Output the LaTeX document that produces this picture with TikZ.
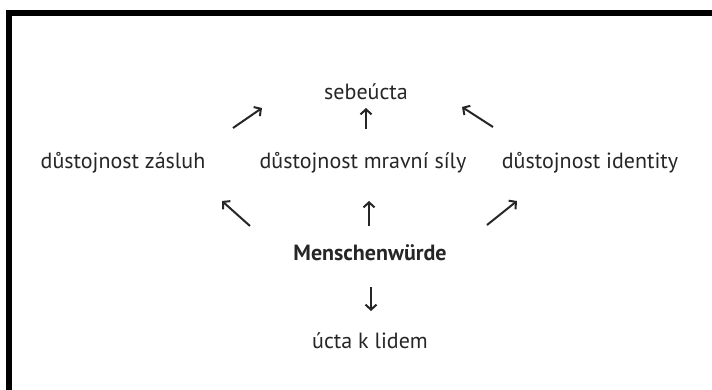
\documentclass[tikz,border=0pt]{standalone}
\usepackage{fontspec}
\setmainfont{PT Sans}
\usetikzlibrary{arrows.meta, positioning}

\begin{document}
\begin{tikzpicture}[x=1pt, y=-1pt,
  termlabel/.style={font=\fontsize{22}{24}\selectfont, inner sep=0pt, text=black!85},
  keylabel/.style={termlabel, font=\fontsize{22}{24}\selectfont\bfseries},
  arrowstyle/.style={-{Straight Barb[length=5pt, width=11pt]}, line width=2pt, draw=black!85},
  scanframe/.style={fill=black},
]

% =================================================================
% PAGE AND SCAN EDGE
% =================================================================
\useasboundingbox[fill=white] (0,0) rectangle (712,390);
\fill[scanframe] (6,10) rectangle (712,16);
\fill[scanframe] (6,10) rectangle (12,390);

% =================================================================
% TERMS
% =================================================================
\node[termlabel] (sebeucta) at (366,92) {sebeúcta};
\node[termlabel] (zasluh)   at (123,163) {důstojnost zásluh};
\node[termlabel] (mravni)   at (363,163) {důstojnost mravní síly};
\node[termlabel] (identity) at (590,163) {důstojnost identity};
\node[keylabel]  (mw)       at (370,253) {Menschenwürde};
\node[termlabel] (ucta)     at (370,341) {úcta k lidem};

% arrow ends
\coordinate (zs-a) at (233,128);
\coordinate (zs-b) at (262,108);
\coordinate (mr-a) at (366,129);
\coordinate (mr-b) at (366,108);
\coordinate (id-a) at (493,127);
\coordinate (id-b) at (462,107);
\coordinate (mw-zs) at (250,226);
\coordinate (zs-c) at (222,201);
\coordinate (mw-mr) at (369,226);
\coordinate (mr-c) at (369,201);
\coordinate (mw-id) at (487,225);
\coordinate (id-c) at (517,201);
\coordinate (mw-a) at (371,287);
\coordinate (uc-b) at (371,311);

% =================================================================
% ARROWS
% =================================================================
\draw[arrowstyle] (zs-a) -- (zs-b);
\draw[arrowstyle] (mr-a) -- (mr-b);
\draw[arrowstyle] (id-a) -- (id-b);
\draw[arrowstyle] (mw-zs) -- (zs-c);
\draw[arrowstyle] (mw-mr) -- (mr-c);
\draw[arrowstyle] (mw-id) -- (id-c);
\draw[arrowstyle] (mw-a) -- (uc-b);

\end{tikzpicture}
\end{document}
